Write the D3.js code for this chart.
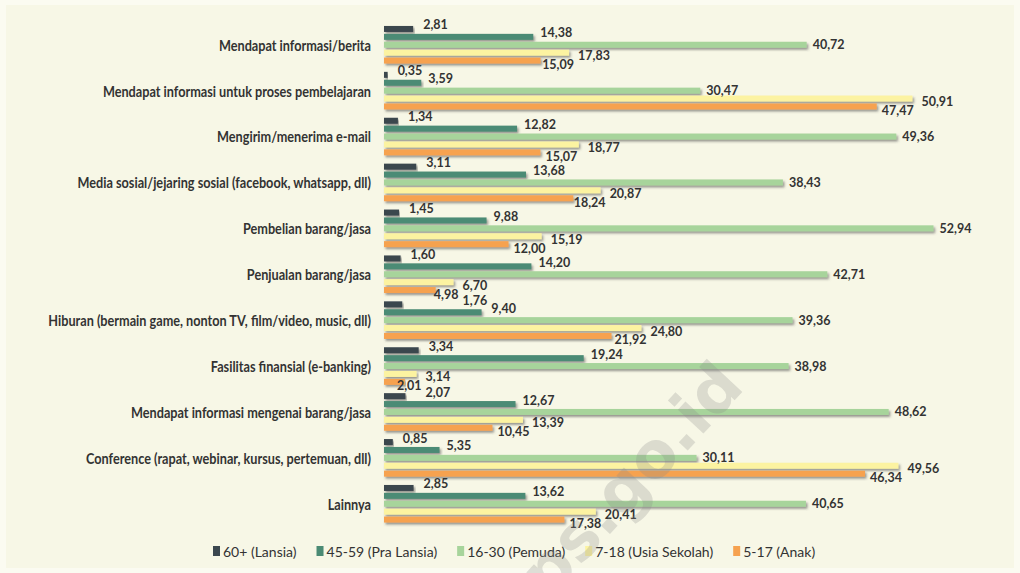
<!DOCTYPE html>
<html>
<head>
<meta charset="utf-8">
<script src="https://cdn.jsdelivr.net/npm/d3@7"></script>
<style>
  html, body { margin: 0; padding: 0; background: #fbfbf1; }
  svg { display: block; }
</style>
</head>
<body>
<div id="chart"></div>
<script>
const categories = [
  "Mendapat informasi/berita",
  "Mendapat informasi untuk proses pembelajaran",
  "Mengirim/menerima e-mail",
  "Media sosial/jejaring sosial (facebook, whatsapp, dll)",
  "Pembelian barang/jasa",
  "Penjualan barang/jasa",
  "Hiburan (bermain game, nonton TV, film/video, music, dll)",
  "Fasilitas finansial (e-banking)",
  "Mendapat informasi mengenai barang/jasa",
  "Conference (rapat, webinar, kursus, pertemuan, dll)",
  "Lainnya"
];

const seriesNames = ["60+ (Lansia)", "45-59 (Pra Lansia)", "16-30 (Pemuda)", "7-18 (Usia Sekolah)", "5-17 (Anak)"];

// one array per series, same order as categories
const lansia      = [2.81, 0.35, 1.34, 3.11, 1.45, 1.60, 1.76, 3.34, 2.07, 0.85, 2.85];
const praLansia   = [14.38, 3.59, 12.82, 13.68, 9.88, 14.20, 9.40, 19.24, 12.67, 5.35, 13.62];
const pemuda      = [40.72, 30.47, 49.36, 38.43, 52.94, 42.71, 39.36, 38.98, 48.62, 30.11, 40.65];
const usiaSekolah = [17.83, 50.91, 18.77, 20.87, 15.19, 6.70, 24.80, 3.14, 13.39, 49.56, 20.41];
const anak        = [15.09, 47.47, 15.07, 18.24, 12.00, 4.98, 21.92, 2.01, 10.45, 46.34, 17.38];

const seriesValues = [lansia, praLansia, pemuda, usiaSekolah, anak];
const colors = ["#3b474e", "#4b8b74", "#a7d49b", "#fcf3a1", "#f6a24f"];

// label nudges per series (how the labels sit around the bar ends)
const labelDy = [-4, -4, 0, 3, 4];
const labelDx = [10, 7, 6, 9, 5];

const W = 1020, H = 573;
const font = "Lato, 'Open Sans', sans-serif";

const svg = d3.select("#chart").append("svg")
  .attr("width", W)
  .attr("height", H);

const defs = svg.append("defs");
const shadow = defs.append("filter").attr("id", "shadow")
  .attr("x", "-5%").attr("y", "-50%").attr("width", "110%").attr("height", "250%");
shadow.append("feDropShadow")
  .attr("dx", 1.5).attr("dy", 2)
  .attr("stdDeviation", 1)
  .attr("flood-color", "#4a4a4a")
  .attr("flood-opacity", 0.55);

// background panel
svg.append("rect")
  .attr("x", 6).attr("y", 5)
  .attr("width", W - 12).attr("height", H - 10)
  .attr("fill", "#f7f7e6");

const x = d3.scaleLinear().domain([0, 55]).range([384, 384 + 55 * 10.38]);

const y0 = d3.scaleBand()
  .domain(categories)
  .range([25, 25 + 11 * 45.9]);

const y1 = d3.scaleBand()
  .domain(seriesNames)
  .range([0, 39.5])
  .paddingInner(0.24)
  .paddingOuter(0.12);

const fmt = v => d3.format(".2f")(v).replace(".", ",");

// category labels
const catLabels = svg.append("g").selectAll("text")
  .data(categories)
  .join("text")
  .attr("x", 371)
  .attr("y", d => y0(d) + y1(seriesNames[2]) + y1.bandwidth() / 2)
  .attr("text-anchor", "end")
  .attr("dominant-baseline", "central")
  .style("font-family", font)
  .style("font-size", "15px")
  .style("font-weight", "bold")
  .attr("fill", "#333")
  .text(d => d);

// squeeze labels to the narrow look of the original (longest ends up ~323px)
const longest = d3.max(catLabels.nodes(), n => n.getComputedTextLength());
const squeeze = Math.min(1, 323 / longest);
catLabels.attr("transform", function() {
  const xx = 371, yy = +this.getAttribute("y");
  return `translate(${xx},${yy}) scale(${squeeze},1) translate(${-xx},${-yy})`;
});

const rows = [];
categories.forEach((c, i) => {
  seriesNames.forEach((s, k) => {
    rows.push({ cat: c, series: s, k: k, value: seriesValues[k][i] });
  });
});

const groups = svg.append("g");

groups.selectAll("rect.bar")
  .data(rows)
  .join("rect")
  .attr("class", "bar")
  .attr("x", x(0))
  .attr("y", d => y0(d.cat) + y1(d.series))
  .attr("width", d => x(d.value) - x(0))
  .attr("height", y1.bandwidth())
  .attr("fill", d => colors[d.k])
  .style("filter", "url(#shadow)");

const valLabels = groups.selectAll("text.val")
  .data(rows)
  .join("text")
  .attr("class", "val")
  .attr("x", d => x(d.value) + labelDx[d.k])
  .attr("y", d => y0(d.cat) + y1(d.series) + y1.bandwidth() / 2 + labelDy[d.k])
  .attr("dominant-baseline", "central")
  .style("font-family", font)
  .style("font-size", "12.5px")
  .style("font-weight", "bold")
  .attr("fill", "#333")
  .text(d => fmt(d.value));

// keep the small labels from sitting on top of each other
const placed = [];
const boxH = 12;
valLabels.each(function(d) {
  const el = d3.select(this);
  const w = this.getComputedTextLength();
  let lx = +el.attr("x");
  const ly = +el.attr("y");
  const hit = () => placed.find(p => lx < p.x + p.w + 2 && lx + w + 2 > p.x && Math.abs(ly - p.y) < boxH);
  let other = hit();
  if (other && d.k === 4) {
    lx = Math.max(x(0) + 3, other.x - w - 4);
    other = hit();
  }
  let guard = 0;
  while (other && guard++ < 5) {
    lx = other.x + other.w + 4;
    other = hit();
  }
  el.attr("x", lx);
  placed.push({ x: lx, y: ly, w: w });
});

// legend
const legend = svg.append("g");
let lx = 213;
seriesNames.forEach((s, k) => {
  legend.append("rect")
    .attr("x", lx).attr("y", 546)
    .attr("width", 7).attr("height", 10)
    .attr("fill", colors[k]);
  const t = legend.append("text")
    .attr("x", lx + 10).attr("y", 551)
    .attr("dominant-baseline", "central")
    .style("font-family", font)
    .style("font-size", "14px")
    .attr("fill", "#333")
    .text(s);
  lx += 10 + t.node().getComputedTextLength() + 20;
});

// watermark
svg.append("text")
  .attr("transform", "translate(746,388) rotate(-47)")
  .attr("text-anchor", "end")
  .style("font-family", "'DejaVu Sans', sans-serif")
  .style("font-size", "64px")
  .style("font-weight", "bold")
  .attr("fill", "#8a8a8a")
  .attr("opacity", 0.25)
  .text("bps.go.id");
</script>
</body>
</html>
